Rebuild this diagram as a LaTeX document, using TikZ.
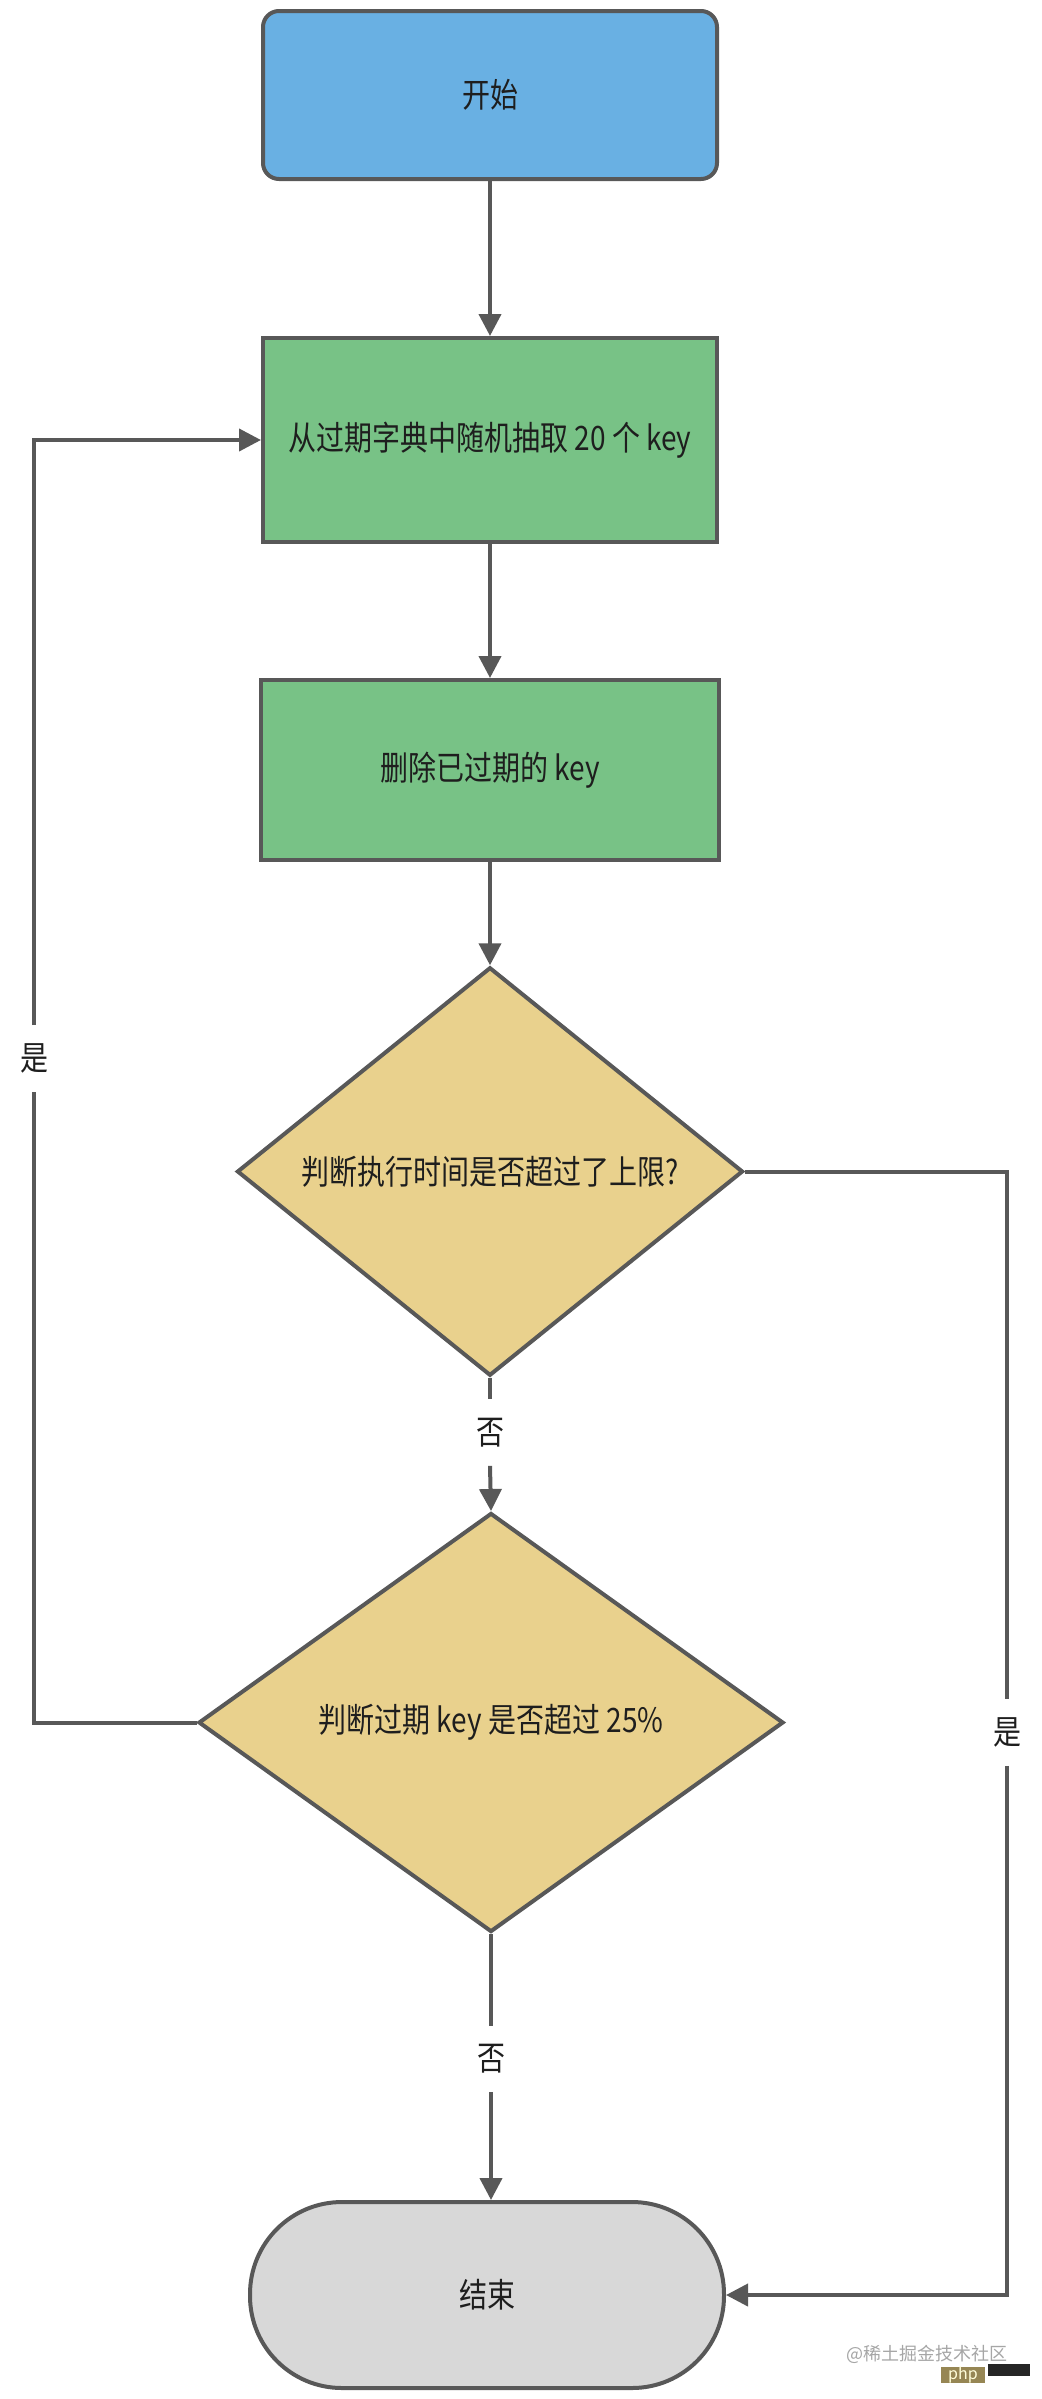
\documentclass[tikz,border=0pt]{standalone}
\usepackage{fontspec}
\setmainfont{Noto Sans CJK SC}
\usepackage{graphicx}
\usetikzlibrary{shapes.geometric,arrows.meta}
\definecolor{cblue}{RGB}{105,176,227}
\definecolor{cgreen}{RGB}{120,194,134}
\definecolor{cyellow}{RGB}{233,209,141}
\definecolor{cgray}{RGB}{216,216,216}
\definecolor{cline}{RGB}{88,88,88}
\definecolor{ctext}{RGB}{30,30,30}
\definecolor{cphp}{RGB}{150,134,84}
\newcommand{\talltext}[1]{\scalebox{1}[1.2]{#1}}
\begin{document}
\begin{tikzpicture}[x=0.5pt,y=-0.5pt,
  every node/.style={text=ctext,font=\fontsize{14pt}{16pt}\selectfont},
  basebox/.style={draw=cline,line width=2pt,inner sep=0pt},
  startbox/.style={basebox,rectangle,rounded corners=8pt,fill=cblue,minimum width=227pt,minimum height=84pt},
  procbox/.style={basebox,rectangle,fill=cgreen},
  decbox/.style={basebox,diamond,fill=cyellow},
  endbox/.style={basebox,rectangle,rounded corners=46pt,fill=cgray,minimum width=237pt,minimum height=93pt},
  lbl/.style={inner sep=0pt,minimum height=33pt,minimum width=16pt},
  conn/.style={draw=cline,line width=2pt},
  arr/.style={conn,-{Triangle[length=11pt,width=11pt]}}
]
\useasboundingbox (0,0) rectangle (1041,2399);
\fill[white] (0,0) rectangle (1041,2399);

\node[startbox] (start) at (490,95) {\talltext{开始}};
\node[procbox,minimum width=227pt,minimum height=102pt] (pick) at (490,440) {\talltext{从过期字典中随机抽取 20 个 key}};
\node[procbox,minimum width=229pt,minimum height=90pt] (del) at (490,770) {\talltext{删除已过期的 key}};
\node[decbox,minimum width=253pt,minimum height=200.5pt] (d1) at (490,1171.5) {\talltext{判断执行时间是否超过了上限?}};
\node[decbox,minimum width=292.5pt,minimum height=209.5pt] (d2) at (491,1722.5) {\talltext{判断过期 key 是否超过 25\%}};
\node[endbox] (end) at (487,2295) {\talltext{结束}};

\node[lbl] (n1) at (490,1432.5) {\talltext{否}};
\node[lbl] (n2) at (491,2059) {\talltext{否}};
\node[lbl] (y1) at (34,1058.5) {\talltext{是}};
\node[lbl] (y2) at (1007,1732.5) {\talltext{是}};

\draw[arr] (start.south) -- (pick.north);
\draw[arr] (pick.south) -- (del.north);
\draw[arr] (del.south) -- (d1.north);
\draw[conn] (d1.south) -- (n1.north);
\draw[arr] (n1.south) -- (d2.north);
\draw[conn] (d2.south) -- (n2.north);
\draw[arr] (n2.south) -- (n2.south |- end.north);
\draw[conn] (d2.west) -| (y1.south);
\draw[arr] (y1.north) |- (pick.west);
\draw[conn] (d1.east) -| (y2.north);
\draw[arr] (y2.south) |- (end.east);

\node[anchor=east,text=black!35,font=\fontsize{9pt}{10pt}\selectfont,inner sep=0pt] (wm) at (1008,2354) {@稀土掘金技术社区};
\node[fill=cphp,text=white!85!yellow,font=\fontsize{8pt}{9pt}\selectfont,inner sep=0pt,minimum width=22pt,minimum height=8pt] (php) at (963,2375) {php};
\node[fill=black!85,inner sep=0pt,minimum width=21pt,minimum height=6pt] (blk) at (1009,2370) {};
\end{tikzpicture}
\end{document}
